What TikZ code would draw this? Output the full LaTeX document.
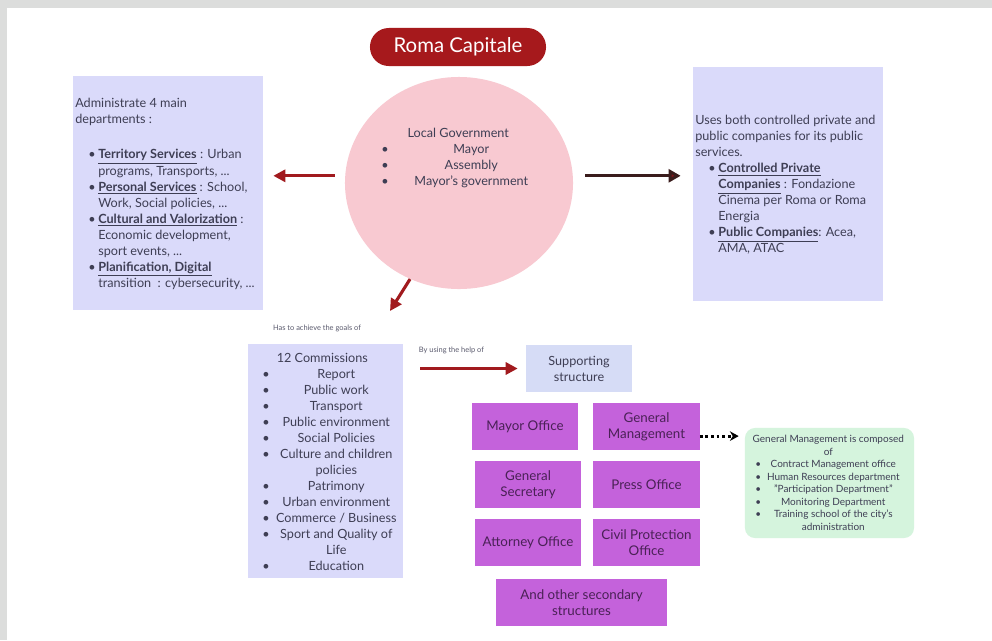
\documentclass[tikz,border=0pt]{standalone}
\usepackage{fontspec}
\setmainfont{Lato}
\usetikzlibrary{arrows.meta,shapes.geometric,positioning}

\definecolor{framegrey}{HTML}{DCDDDC}
\definecolor{lavender}{HTML}{DADAFA}
\definecolor{suppblue}{HTML}{D6DCF6}
\definecolor{govpink}{HTML}{F8C9D1}
\definecolor{romared}{HTML}{A6191C}
\definecolor{arrowred}{HTML}{A11A1E}
\definecolor{darkarrow}{HTML}{3A1C1C}
\definecolor{officepurple}{HTML}{C462DB}
\definecolor{officetext}{HTML}{4A2156}
\definecolor{mgmtgreen}{HTML}{D5F4DD}
\definecolor{bodytext}{HTML}{3E3E54}

% bullet with hanging indent, and centred list item
\newcommand{\hangbul}{\makebox[0.575cm][l]{\hspace{0.33cm}\textbullet}}
\newcommand{\hangind}{\hspace*{0.575cm}}
\newcommand{\ctritem}[3]{\makebox[#1][l]{\textbullet}\makebox[#2][c]{#3}}

\tikzset{
  bodyfont/.style={font=\fontsize{9}{11.4}\selectfont, text=bodytext},
  listtext/.style={bodyfont, anchor=west, align=left, inner sep=0pt},
  lavbox/.style={fill=lavender, minimum width=4.75cm, minimum height=5.85cm},
  officebox/.style={fill=officepurple, text=officetext, minimum width=2.65cm,
    minimum height=1.175cm, align=center, font=\fontsize{9.5}{11.5}\selectfont},
  redarrow/.style={draw=arrowred, line width=2.2pt, -{Triangle[length=0.3cm,width=0.3cm]}},
  smalllabel/.style={font=\fontsize{5.3}{6}\selectfont, text=bodytext!85}
}

\begin{document}
\begin{tikzpicture}[x=0.025cm, y=-0.025cm]
  % frame
  \useasboundingbox (0,0) rectangle (992,640);
  \fill[framegrey] (0,0) rectangle (992,640);
  \fill[white] (7,8) rectangle (992,640);

  % title and local government
  \node[fill=romared, rounded corners=0.47cm, minimum width=4.4cm, minimum height=0.95cm,
    text=white, font=\fontsize{14.5}{16}\selectfont] (roma) at (458,47) {Roma Capitale};
  \node[ellipse, fill=govpink, minimum width=5.7cm, minimum height=5.3cm] (gov) at (459,183) {};
  \node[listtext] (govtxt) at (381,158)
    {\makebox[3.85cm][c]{Local Government}\\
     \ctritem{0.25cm}{4cm}{Mayor}\\
     \ctritem{0.25cm}{4cm}{Assembly}\\
     \ctritem{0.25cm}{4cm}{Mayor's government}};

  % departments
  \node[lavbox] (dept) at (168,193) {};
  \node[listtext] (depttxt) at (75,194)
    {Administrate 4 main\\
     departments :\\[0.475cm]
     \hangbul\underline{\textbf{Territory Services}} : Urban\\
     \hangind programs, Transports, ...\\
     \hangbul\underline{\textbf{Personal Services}} : School,\\
     \hangind Work, Social policies, ...\\
     \hangbul\underline{\textbf{Cultural and Valorization}} :\\
     \hangind Economic development,\\
     \hangind sport events, ...\\
     \hangbul\underline{\textbf{Planification, Digital}}\\
     \hangind transition~ : cybersecurity, ...};

  % companies
  \node[lavbox] (comp) at (788,184) {};
  \node[listtext] (comptxt) at (695,185)
    {Uses both controlled private and\\
     public companies for its public\\
     services.\\
     \hangbul\underline{\textbf{Controlled Private}}\\
     \hangind\underline{\textbf{Companies}} : Fondazione\\
     \hangind Cinema per Roma or Roma\\
     \hangind Energia\\
     \hangbul\underline{\textbf{Public Companies}}: Acea,\\
     \hangind AMA, ATAC};

  % commissions
  \node[smalllabel] (goals) at (317,328) {Has to achieve the goals of};
  \node[fill=lavender, minimum width=3.875cm, minimum height=5.85cm] (comm) at (325.5,461) {};
  \node[listtext] (commtxt) at (262,462)
    {\makebox[3cm][c]{12 Commissions}\\
     \ctritem{0.25cm}{3.2cm}{Report}\\
     \ctritem{0.25cm}{3.2cm}{Public work}\\
     \ctritem{0.25cm}{3.2cm}{Transport}\\
     \ctritem{0.25cm}{3.2cm}{Public environment}\\
     \ctritem{0.25cm}{3.2cm}{Social Policies}\\
     \ctritem{0.25cm}{3.2cm}{Culture and children}\\
     \hspace*{0.25cm}\makebox[3.2cm][c]{policies}\\
     \ctritem{0.25cm}{3.2cm}{Patrimony}\\
     \ctritem{0.25cm}{3.2cm}{Urban environment}\\
     \ctritem{0.25cm}{3.2cm}{Commerce / Business}\\
     \ctritem{0.25cm}{3.2cm}{Sport and Quality of}\\
     \hspace*{0.25cm}\makebox[3.2cm][c]{Life}\\
     \ctritem{0.25cm}{3.2cm}{Education}};

  % supporting structure
  \node[smalllabel, anchor=west] (help) at (414,350) {By using the help of};
  \node[fill=suppblue, bodyfont, minimum width=2.65cm, minimum height=1.175cm, align=center]
    (supp) at (579,368.5) {Supporting\\structure};
  \node[officebox] (mayoroff) at (525,426.5) {Mayor Office};
  \node[officebox] (genmgmt) at (646.5,426.5) {General\\Management};
  \node[officebox] (gensec) at (528,484.5) {General\\Secretary};
  \node[officebox] (press) at (646.5,484.5) {Press Office};
  \node[officebox] (attorney) at (528,542.5) {Attorney Office};
  \node[officebox] (civil) at (646.5,542.5) {Civil Protection\\Office};
  \node[officebox, minimum width=4.275cm] (other) at (581.5,602.5) {And other secondary\\structures};

  % general management detail
  \node[fill=mgmtgreen, rounded corners=0.25cm, minimum width=4.225cm, minimum height=2.75cm]
    (mgmt) at (829.5,483) {};
  \node[listtext, font=\fontsize{7.1}{8.9}\selectfont]
    (mgmttxt) at (755,483)
    {\makebox[3.65cm][c]{General Management is composed}\\
     \makebox[3.65cm][c]{of}\\
     \ctritem{0.25cm}{3.4cm}{Contract Management office}\\
     \ctritem{0.25cm}{3.4cm}{Human Resources department}\\
     \ctritem{0.25cm}{3.4cm}{"Participation Department"}\\
     \ctritem{0.25cm}{3.4cm}{Monitoring Department}\\
     \ctritem{0.25cm}{3.4cm}{Training school of the city's}\\
     \hspace*{0.25cm}\makebox[3.4cm][c]{administration}};

  % arrows
  \coordinate (downtip) at (390,311);
  \draw[redarrow, shorten <=0.25cm, shorten >=0.25cm]
    ([yshift=0.18cm]gov.west) -- ([yshift=0.18cm]gov.west -| dept.east);
  \draw[draw=darkarrow, line width=2.2pt, shorten <=0.3cm, shorten >=0.3cm,
    -{Triangle[length=0.3cm,width=0.32cm,fill=arrowred!80!black]}]
    ([yshift=0.18cm]gov.east) -- ([yshift=0.18cm]gov.east -| comp.west);
  \draw[redarrow] (gov.-117) -- (downtip);
  \draw[redarrow, shorten <=0.42cm, shorten >=0.2cm] (supp.west -| comm.east) -- (supp.west);
  \draw[line width=2pt, dotted, -{Stealth[length=0.22cm,width=0.24cm]}, shorten >=0.15cm]
    ([yshift=-0.24cm]genmgmt.east) -- ([yshift=-0.24cm]genmgmt.east -| mgmt.west);
\end{tikzpicture}
\end{document}
